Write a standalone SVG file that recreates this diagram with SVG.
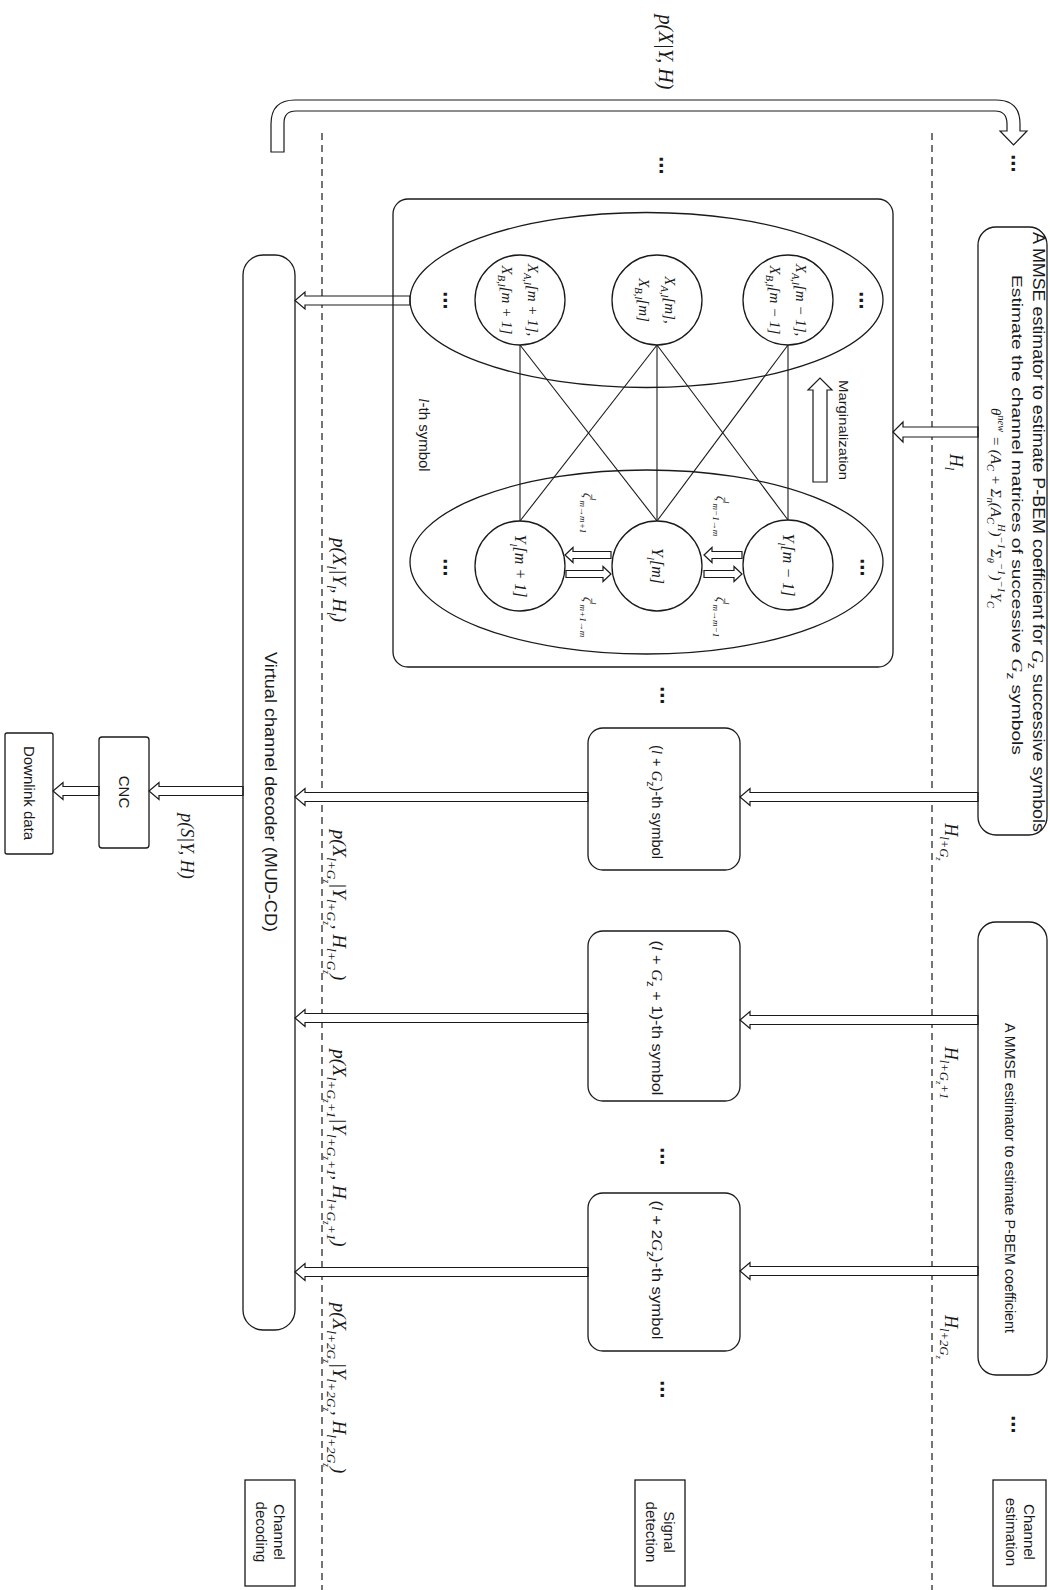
<svg xmlns="http://www.w3.org/2000/svg" width="1050" height="1590" viewBox="0 0 1050 1590">
<defs><style>
.b{fill:none;stroke:#1a1a1a;stroke-width:1.3}
.bw{fill:#fff;stroke:#1a1a1a;stroke-width:1.3}
.d{stroke:#1a1a1a;stroke-width:1.2;stroke-dasharray:7 5;fill:none}
.l{stroke:#1a1a1a;stroke-width:1.1;fill:none}
.ha{fill:#fff;stroke:#1a1a1a;stroke-width:1.2}
text{fill:#1a1a1a;dominant-baseline:central;text-anchor:middle}
.s{font-family:"Liberation Sans",Arial,sans-serif}
.m{font-family:"Liberation Serif","Times New Roman",serif;font-style:italic}
.i{font-family:"Liberation Serif","Times New Roman",serif;font-style:italic}
.sb{font-size:70%;baseline-shift:sub}
.sp{font-size:70%;baseline-shift:super}
.dots{font-family:"DejaVu Sans",sans-serif;font-size:18px;font-weight:bold}
</style></defs>
<rect width="1050" height="1590" fill="#fff"/>

<g id="lanes">
<line class="d" x1="932" y1="133" x2="932" y2="1590"/>
<line class="d" x1="322" y1="133" x2="322" y2="1590"/>
</g>

<g id="connectors">
<path class="ha" d="M271,152 V124 Q271,100 295,100 H996 Q1020,100 1020,124 V131 H1027 L1013.5,145 L1000,131 H1007 V124 Q1007,111 995,111 H296 Q284,111 284,123 V152 Z"/>
<path class="ha" d="M978,427 H903 V422 L893,432 L903,442 V437 H978 Z"/>
<path class="ha" d="M978,792.5 H750 V788.5 L740,797 L750,805.5 V801.5 H978 Z"/>
<path class="ha" d="M978,1015.5 H750 V1011.5 L740,1020 L750,1028.5 V1024.5 H978 Z"/>
<path class="ha" d="M978,1266.5 H750 V1262.5 L740,1271 L750,1279.5 V1275.5 H978 Z"/>
<path class="ha" d="M410,296 H305 V292 L295,300.5 L305,309 V305 H410 Z"/>
<path class="ha" d="M588,792.5 H305 V788.5 L295,797 L305,805.5 V801.5 H588 Z"/>
<path class="ha" d="M588,1013.5 H305 V1009.5 L295,1018 L305,1026.5 V1022.5 H588 Z"/>
<path class="ha" d="M588,1267.5 H305 V1263.5 L295,1272 L305,1280.5 V1276.5 H588 Z"/>
<path class="ha" d="M243,786.5 H159 V782.5 L149,791 L159,799.5 V795.5 H243 Z"/>
<path class="ha" d="M99,786.5 H63 V782.5 L53,791 L63,799.5 V795.5 H99 Z"/>
<text class="m" x="666" y="52" font-size="20" transform="rotate(90 666 52)">p(X|Y, H)</text>
<text class="m" x="956" y="462" font-size="18" transform="rotate(90 956 462)">H<tspan class="sb">l</tspan></text>
<text class="m" x="951" y="842" font-size="18" transform="rotate(90 951 842)">H<tspan class="sb">l+G<tspan class="sb">z</tspan></tspan></text>
<text class="m" x="951" y="1073" font-size="18" transform="rotate(90 951 1073)">H<tspan class="sb">l+G<tspan class="sb">z</tspan>+1</tspan></text>
<text class="m" x="951" y="1337" font-size="18" transform="rotate(90 951 1337)">H<tspan class="sb">l+2G<tspan class="sb">z</tspan></tspan></text>
<text class="m" x="339" y="580" font-size="19" transform="rotate(90 339 580)">p(X<tspan class="sb">l</tspan>|Y<tspan class="sb">l</tspan>, H<tspan class="sb">l</tspan>)</text>
<text class="m" x="339" y="905" font-size="19" transform="rotate(90 339 905)">p(X<tspan class="sb">l+G<tspan class="sb">z</tspan></tspan>|Y<tspan class="sb">l+G<tspan class="sb">z</tspan></tspan>, H<tspan class="sb">l+G<tspan class="sb">z</tspan></tspan>)</text>
<text class="m" x="339" y="1148" font-size="19" transform="rotate(90 339 1148)">p(X<tspan class="sb">l+G<tspan class="sb">z</tspan>+1</tspan>|Y<tspan class="sb">l+G<tspan class="sb">z</tspan>+1</tspan>, H<tspan class="sb">l+G<tspan class="sb">z</tspan>+1</tspan>)</text>
<text class="m" x="339" y="1388" font-size="19" transform="rotate(90 339 1388)">p(X<tspan class="sb">l+2G<tspan class="sb">z</tspan></tspan>|Y<tspan class="sb">l+2G<tspan class="sb">z</tspan></tspan>, H<tspan class="sb">l+2G<tspan class="sb">z</tspan></tspan>)</text>
<text class="m" x="187" y="846" font-size="18" transform="rotate(90 187 846)">p(S|Y, H)</text>
</g>

<g id="ce1">
<rect class="b" x="978" y="227" width="69" height="608" rx="18"/>
<text class="s" x="1038" y="532" font-size="16" textLength="600" lengthAdjust="spacingAndGlyphs" transform="rotate(90 1038 532)">A MMSE estimator to estimate P-BEM coefficient for <tspan class="i">G</tspan><tspan class="sb">z</tspan> successive symbols</text>
<text class="s" x="1017" y="515" font-size="15" textLength="480" lengthAdjust="spacingAndGlyphs" transform="rotate(90 1017 515)">Estimate the channel matrices of successive <tspan class="i">G</tspan><tspan class="sb">z</tspan> symbols</text>
<text class="m" x="996" y="508" font-size="15" transform="rotate(90 996 508)">θ<tspan class="sp">new</tspan> = (A<tspan class="sb">C</tspan> + Σ<tspan class="sb">n</tspan>(A<tspan class="sb">C</tspan><tspan class="sp">H</tspan>)<tspan class="sp">−1</tspan>Σ<tspan class="sb">θ</tspan><tspan class="sp">−1</tspan>)<tspan class="sp">−1</tspan>Y<tspan class="sb">C</tspan></text>
</g>
<g id="ce2">
<rect class="b" x="978" y="922" width="69" height="453" rx="18"/>
<text class="s" x="1010" y="1178" font-size="15" textLength="310" lengthAdjust="spacingAndGlyphs" transform="rotate(90 1010 1178)">A MMSE estimator to estimate P-BEM coefficient</text>
</g>
<g id="ce-label">
<rect class="b" x="993" y="1480" width="53" height="106"/>
<text class="s" x="1029" y="1532" font-size="15" transform="rotate(90 1029 1532)">Channel</text>
<text class="s" x="1011" y="1532" font-size="15" transform="rotate(90 1011 1532)">estimation</text>
</g>

<g id="lth-symbol">
<rect class="b" x="393" y="199" width="500" height="468" rx="15"/>
<ellipse class="b" cx="646.5" cy="300" rx="236.5" ry="87.5"/>
<ellipse class="b" cx="646.5" cy="562" rx="236.5" ry="92"/>
<line class="l" x1="520" y1="345" x2="520" y2="521"/>
<line class="l" x1="520" y1="345" x2="657" y2="521"/>
<line class="l" x1="657" y1="345" x2="520" y2="521"/>
<line class="l" x1="657" y1="345" x2="657" y2="521"/>
<line class="l" x1="657" y1="345" x2="788" y2="520"/>
<line class="l" x1="788" y1="345" x2="657" y2="521"/>
<line class="l" x1="788" y1="345" x2="788" y2="520"/>
<text class="s" x="424" y="435" font-size="15" transform="rotate(90 424 435)"><tspan class="i">l</tspan>-th symbol</text>
<text class="s" x="843" y="430" font-size="12" textLength="100" lengthAdjust="spacingAndGlyphs" transform="rotate(90 843 430)">Marginalization</text>
<path class="ha" d="M813,482 V390 H808 L820,378 L832,390 H827 V482 Z"/>
<path class="ha" d="M611,551.5 H573 V547.5 L565,555 L573,562.5 V558.5 H611 Z"/>
<path class="ha" d="M566,570.5 H603 V566.5 L611,574 L603,581.5 V577.5 H566 Z"/>
<path class="ha" d="M742,551.5 H712 V547.5 L704,555 L712,562.5 V558.5 H742 Z"/>
<path class="ha" d="M704,570.5 H734 V566.5 L742,574 L734,581.5 V577.5 H704 Z"/>
<text class="m" x="588" y="513" font-size="13" transform="rotate(90 588 513)">ζ<tspan class="sp">l</tspan><tspan class="sb">m→m+1</tspan></text>
<text class="m" x="588" y="617" font-size="13" transform="rotate(90 588 617)">ζ<tspan class="sp">l</tspan><tspan class="sb">m+1→m</tspan></text>
<text class="m" x="721" y="516" font-size="13" transform="rotate(90 721 516)">ζ<tspan class="sp">l</tspan><tspan class="sb">m−1→m</tspan></text>
<text class="m" x="721" y="617" font-size="13" transform="rotate(90 721 617)">ζ<tspan class="sp">l</tspan><tspan class="sb">m→m−1</tspan></text>
<text class="dots" x="445" y="300" transform="rotate(90 445 300)">⋯</text>
<text class="dots" x="445" y="567" transform="rotate(90 445 567)">⋯</text>
<text class="dots" x="861" y="300" transform="rotate(90 861 300)">⋯</text>
<text class="dots" x="862" y="567" transform="rotate(90 862 567)">⋯</text>
</g>
<g id="x-m-plus-1">
<circle class="bw" cx="520" cy="300" r="45"/>
<text class="m" x="533" y="300" font-size="15" transform="rotate(90 533 300)">X<tspan class="sb">A,l</tspan>[m + 1],</text>
<text class="m" x="507" y="300" font-size="15" transform="rotate(90 507 300)">X<tspan class="sb">B,l</tspan>[m + 1]</text>
</g>
<g id="x-m">
<circle class="bw" cx="657" cy="300" r="45"/>
<text class="m" x="670" y="300" font-size="15" transform="rotate(90 670 300)">X<tspan class="sb">A,l</tspan>[m],</text>
<text class="m" x="644" y="300" font-size="15" transform="rotate(90 644 300)">X<tspan class="sb">B,l</tspan>[m]</text>
</g>
<g id="x-m-minus-1">
<circle class="bw" cx="788" cy="300" r="45"/>
<text class="m" x="801" y="300" font-size="15" transform="rotate(90 801 300)">X<tspan class="sb">A,l</tspan>[m − 1],</text>
<text class="m" x="775" y="300" font-size="15" transform="rotate(90 775 300)">X<tspan class="sb">B,l</tspan>[m − 1]</text>
</g>
<g id="y-m-plus-1">
<circle class="bw" cx="520" cy="566" r="45"/>
<text class="m" x="520" y="566" font-size="16" transform="rotate(90 520 566)">Y<tspan class="sb">l</tspan>[m + 1]</text>
</g>
<g id="y-m">
<circle class="bw" cx="657" cy="566" r="45"/>
<text class="m" x="657" y="566" font-size="16" transform="rotate(90 657 566)">Y<tspan class="sb">l</tspan>[m]</text>
</g>
<g id="y-m-minus-1">
<circle class="bw" cx="788" cy="565" r="45"/>
<text class="m" x="788" y="565" font-size="16" transform="rotate(90 788 565)">Y<tspan class="sb">l</tspan>[m − 1]</text>
</g>

<g id="sym-a">
<rect class="b" x="588" y="728" width="152" height="142" rx="15"/>
<text class="s" x="657" y="802" font-size="15" textLength="114" lengthAdjust="spacingAndGlyphs" transform="rotate(90 657 802)">(<tspan class="i">l</tspan> + <tspan class="i">G</tspan><tspan class="sb">z</tspan>)-th symbol</text>
</g>
<g id="sym-b">
<rect class="b" x="588" y="931" width="152" height="170" rx="15"/>
<text class="s" x="657" y="1018" font-size="15" textLength="155" lengthAdjust="spacingAndGlyphs" transform="rotate(90 657 1018)">(<tspan class="i">l</tspan> + <tspan class="i">G</tspan><tspan class="sb">z</tspan> + 1)-th symbol</text>
</g>
<g id="sym-c">
<rect class="b" x="588" y="1193" width="152" height="158" rx="15"/>
<text class="s" x="657" y="1270" font-size="15" textLength="139" lengthAdjust="spacingAndGlyphs" transform="rotate(90 657 1270)">(<tspan class="i">l</tspan> + 2<tspan class="i">G</tspan><tspan class="sb">z</tspan>)-th symbol</text>
</g>
<g id="sd-label">
<rect class="b" x="635" y="1480" width="50" height="106"/>
<text class="s" x="669" y="1532" font-size="15" transform="rotate(90 669 1532)">Signal</text>
<text class="s" x="651" y="1532" font-size="15" transform="rotate(90 651 1532)">detection</text>
</g>

<g id="vcd">
<rect class="b" x="243" y="255" width="52" height="1075" rx="20"/>
<text class="s" x="270" y="792" font-size="16" textLength="280" lengthAdjust="spacingAndGlyphs" transform="rotate(90 270 792)">Virtual channel decoder (MUD-CD)</text>
</g>
<g id="cd-label">
<rect class="b" x="245" y="1480" width="50" height="106"/>
<text class="s" x="279" y="1532" font-size="15" transform="rotate(90 279 1532)">Channel</text>
<text class="s" x="261" y="1532" font-size="15" transform="rotate(90 261 1532)">decoding</text>
</g>
<g id="cnc">
<rect class="b" x="99" y="737" width="50" height="111" rx="3"/>
<text class="s" x="124" y="792" font-size="15" transform="rotate(90 124 792)">CNC</text>
</g>
<g id="downlink">
<rect class="b" x="5" y="733" width="48" height="121" rx="2"/>
<text class="s" x="29" y="793" font-size="15" transform="rotate(90 29 793)">Downlink data</text>
</g>

<g id="ellipsis-dots">
<text class="dots" x="661" y="165" transform="rotate(90 661 165)">⋯</text>
<text class="dots" x="1013" y="163" transform="rotate(90 1013 163)">⋯</text>
<text class="dots" x="662" y="695" transform="rotate(90 662 695)">⋯</text>
<text class="dots" x="662" y="1156" transform="rotate(90 662 1156)">⋯</text>
<text class="dots" x="662" y="1389" transform="rotate(90 662 1389)">⋯</text>
<text class="dots" x="1013" y="1424" transform="rotate(90 1013 1424)">⋯</text>
</g>
</svg>
